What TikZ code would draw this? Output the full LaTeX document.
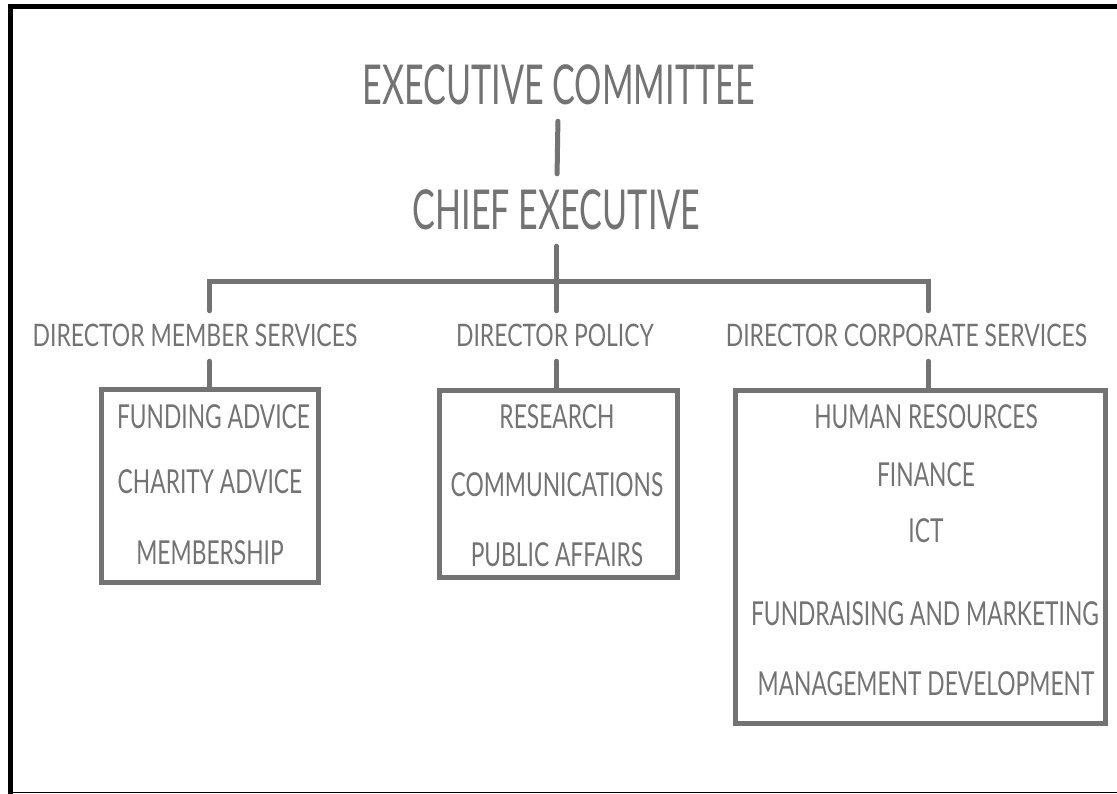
\documentclass[tikz,border=0pt]{standalone}
\usepackage{fontspec}
\newfontfamily\headfont[FakeStretch=0.62]{Lato}
\newfontfamily\dirfont[FakeStretch=0.74]{Lato}
\newfontfamily\itemfont[FakeStretch=0.69]{Lato}
\definecolor{orggrey}{RGB}{115,115,115}

\begin{document}
\begin{tikzpicture}[x=1pt,y=-1pt,
		link/.style={draw=orggrey,line width=5pt,line cap=round},
		unitbox/.style={draw=orggrey,line width=5pt,inner sep=0pt},
		lbl/.style={text=orggrey,inner xsep=0pt,text depth=0pt},
		top/.style={lbl,font=\headfont\fontsize{55}{60}\selectfont,text height=40pt,inner ysep=16pt},
		dir/.style={lbl,font=\dirfont\fontsize{31}{34}\selectfont,text height=22pt,inner ysep=14pt},
		item/.style={lbl,font=\itemfont\fontsize{33}{36}\selectfont,text height=23.5pt,inner ysep=0pt}]
	\useasboundingbox (0,0) rectangle (1117,794);
	\draw[line width=5pt] (10.5,794)--(10.5,6.5)--(1117,6.5);
	\draw[line width=1.5pt] (8,792.5)--(1117,792.5);

	\node[top] (ec) at (558.5,85) {EXECUTIVE COMMITTEE};
	\node[top] (ce) at (556.5,210) {CHIEF EXECUTIVE};
	\node[dir] (dms) at (195,336) {DIRECTOR MEMBER SERVICES};
	\node[dir] (dp) at (555,336) {DIRECTOR POLICY};
	\node[dir] (dcs) at (906.5,336) {DIRECTOR CORPORATE SERVICES};
	\coordinate (bar) at (557,282);
	\coordinate (csdrop) at (928,282);

	\node[unitbox,minimum width=217.5pt,minimum height=192.5pt] (msbox) at (209.75,486.25) {};
	\node[unitbox,minimum width=238.5pt,minimum height=186.5pt] (pbox) at (558.25,484.25) {};
	\node[unitbox,minimum width=370pt,minimum height=332.5pt] (csbox) at (920.5,557.25) {};

	\node[item] (fund) at (213.5,417) {FUNDING ADVICE};
	\node[item] (char) at (210,482) {CHARITY ADVICE};
	\node[item] (memb) at (210,553) {MEMBERSHIP};
	\node[item] (res) at (557,416.5) {RESEARCH};
	\node[item] (comm) at (557,485) {COMMUNICATIONS};
	\node[item] (pub) at (557,554.5) {PUBLIC AFFAIRS};
	\node[item] (hr) at (926,416.5) {HUMAN RESOURCES};
	\node[item] (fin) at (926,474.5) {FINANCE};
	\node[item] (ict) at (926,531) {ICT};
	\node[item] (fmk) at (925,614) {FUNDRAISING AND MARKETING};
	\node[item] (mdev) at (926,683.5) {MANAGEMENT DEVELOPMENT};

	\draw[link] (ec)--(ce);
	\draw[link] (ce.south)--(ce.south |- dp.north);
	\draw[link] (msbox.north |- dms.north) |- (bar) -| (csdrop |- dcs.north);
	\draw[link] (msbox.north |- dms.south)--(msbox.north);
	\draw[link] (ce.south |- dp.south)--(ce.south |- pbox.north);
	\draw[link] (csdrop |- dcs.south)--(csdrop |- csbox.north);
\end{tikzpicture}
\end{document}
